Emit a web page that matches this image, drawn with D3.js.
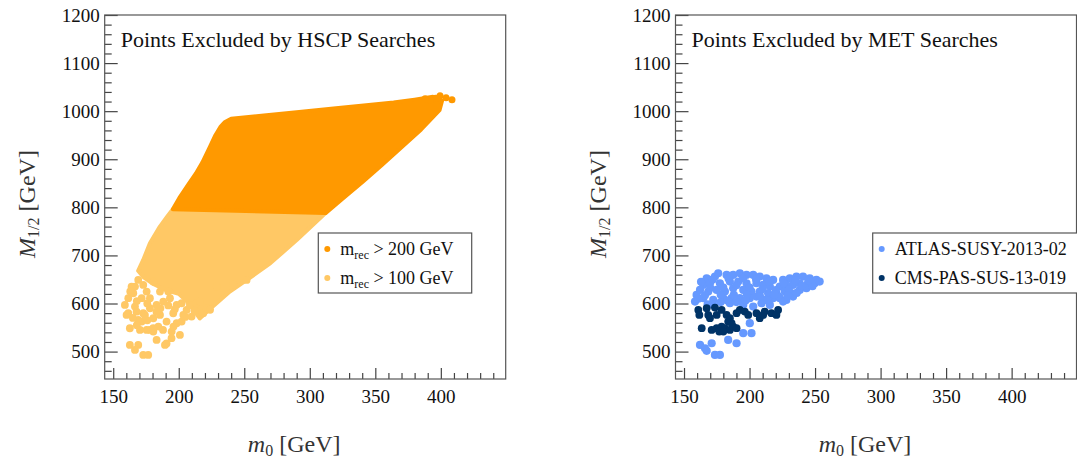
<!DOCTYPE html>
<html>
<head>
<meta charset="utf-8">
<script src="https://cdn.jsdelivr.net/npm/d3@7"></script>
<style>
  body { margin: 0; background: #fff; }
  svg { display: block; }
  text { font-family: "Liberation Serif", "Times New Roman", serif; }
</style>
</head>
<body>
<svg id="chart" width="1077" height="459"></svg>
<script>
// axis ticks
var xTicks = [150, 200, 250, 300, 350, 400];
var yTicks = [500, 600, 700, 800, 900, 1000, 1100, 1200];

// HSCP panel: the dense regions (outline of the filled point cloud) [m0, M12]
var hscp200Region = [
  [195.5, 796], [201, 822], [207, 846], [213, 870], [218, 893], [223.8, 926],
  [228, 950], [232, 968], [235, 977], [240, 984], [265, 991], [290, 998],
  [320, 1006], [345, 1013], [364, 1018], [380, 1024], [394, 1030], [401, 1022],
  [399, 1002], [385, 962], [370, 925], [355, 888], [340, 852], [325, 818],
  [312, 788]
];
var hscp100Region = [
  [195.5, 796], [312, 788], [290, 732], [270, 684], [252, 649], [239, 625],
  [226, 594], [216, 569], [211, 588], [206, 605], [200, 620], [190, 628],
  [181, 640], [173, 655], [169, 668], [172.9, 690.6], [178, 725.4],
  [185.6, 760], [191, 780]
];
// HSCP panel: isolated points at the edges of the cloud
var hscp200Points = [
  [399.4, 1032], [404, 1028], [408.5, 1024], [396, 1027], [392, 1022], [388, 1026]
];
var hscp100Points = [
  [158.9, 597], [161.5, 611], [165.3, 621.3], [166.6, 635.2], [169.1, 649],
  [172.9, 638.6], [175.5, 624.8], [171.7, 611], [166.6, 593.6], [160.2, 576.3],
  [162.7, 548.5], [169.1, 565.9], [172.9, 579.7], [178, 590.1], [183.1, 597],
  [188.2, 604], [193.3, 611], [198.4, 597], [202.2, 600.5], [206, 586.7],
  [209.8, 572.8], [208.5, 597], [213.6, 600.5], [218.7, 579.7], [221.3, 590.1],
  [185.7, 576.3], [190.7, 562.4], [180.6, 569.3], [175.5, 545.1], [178, 545.1],
  [184.4, 552], [198.4, 558.9], [194.6, 541.6], [200.9, 534.7], [183.1, 524.3],
  [189.5, 513.9], [162.7, 513.9], [169.1, 513.9], [172.9, 493.1], [176.7, 493.1],
  [166.6, 503.5], [171.7, 562.4], [180.6, 541.6], [185.7, 624.8], [180.6, 645.6],
  [192, 624.8], [178, 611], [195.8, 579.7], [203.5, 576.3], [202.2, 562.4],
  [161.5, 580], [167.8, 583], [174.2, 576], [170.4, 545], [180.5, 549],
  [190.7, 517], [216.2, 604], [223.9, 587], [228.9, 635], [241.6, 639],
  [251.8, 649], [164, 635], [194.5, 528],
  [163, 625], [168, 605], [176, 600], [186, 590], [192, 596], [197, 588],
  [183, 583], [176, 565], [165, 570], [212, 585], [205, 572], [188, 545],
  [196, 552], [168, 555]
];

// MET panel [m0, M12]
var atlasPoints = [
  [167.3, 652.5], [173.6, 656], [176.1, 662.9], [182.5, 659.5], [187.5, 659.5],
  [192.6, 662.9], [197.7, 659.5], [202.8, 659.5], [207.8, 656], [212.9, 652.5],
  [218, 649.1], [225.6, 649.1], [230.7, 652.5], [235.8, 656], [240.8, 656],
  [245.9, 652.5], [251, 649.1],
  [164.7, 638.7], [169.8, 642.1], [177.4, 642.1], [185, 645.6], [191.4, 645.6],
  [197.7, 642.1], [205.3, 642.1], [210.4, 638.7], [215.5, 635.2], [223.1, 635.2],
  [228.1, 638.7], [233.2, 638.7], [238.3, 642.1], [244.6, 642.1], [249.7, 642.1],
  [253.5, 645.6],
  [159.6, 617.9], [162.2, 628.3], [168.5, 624.8], [174.9, 628.3], [181.2, 624.8],
  [187.5, 631.7], [195.2, 628.3], [201.5, 624.8], [207.8, 624.8], [214.2, 621.3],
  [220.5, 621.3], [226.9, 624.8], [232, 621.3], [238.3, 628.3], [243.4, 631.7],
  [158.4, 604], [164.7, 611], [172.3, 607.5], [179.9, 611], [186.3, 611],
  [192.6, 611], [200.2, 611], [205.3, 614.4], [211.6, 607.5], [218, 611],
  [223.1, 611], [228.1, 607.5], [233.2, 614.4],
  [172.3, 597.1], [185, 600.5], [195.2, 597.1], [202.8, 593.6], [209.1, 600.5],
  [215.5, 597.1], [225.6, 604],
  [170, 632], [180, 633], [190, 638], [200, 633], [210, 630], [220, 628],
  [230, 630], [240, 636], [248, 636], [178, 618], [188, 618], [198, 618],
  [208, 615], [222, 615], [168, 598], [178, 603], [190, 603], [214, 606],
  [235, 648], [245, 648], [163, 645], [172, 650],
  [166, 617], [184, 652], [195, 652], [205, 650], [215, 645], [226, 642],
  [183, 606], [197, 606], [229, 616], [236, 622], [161, 610], [219, 618],
  [200.2, 559], [195.2, 538.2], [201.5, 538.2], [183.7, 524.3], [190.1, 517.4],
  [162.2, 513.9], [166, 507], [171.1, 517.4], [173.6, 493.1], [177.4, 493.1],
  [167.3, 501.5]
];
var cmsPoints = [
  [160.9, 586.7], [161.7, 576.3], [167.3, 590.2], [168.5, 576.3], [173.6, 591.5],
  [174.9, 576.3], [178.7, 586.7], [182.5, 576.3], [185, 569.4], [190.1, 579.8],
  [192.6, 586.7], [196.4, 583.2], [199, 576.3], [205.3, 579.8], [207.8, 569.4],
  [210.4, 576.3], [211.6, 583.2], [216.7, 579.8], [221.8, 586.7], [220.5, 576.3],
  [163.5, 548.6], [171.1, 545.1], [174.9, 548.6], [178.7, 552], [181.2, 548.6],
  [185, 545.1], [187.5, 552], [190.1, 548.6], [176.9, 541.6], [180, 541.6],
  [183.7, 562.4], [186.3, 559], [169.8, 569.4]
];

var colors = {
  hscp200: '#ff9900',
  hscp100: '#ffc865',
  atlas: '#6699ff',
  cms: '#003366'
};

var serif = '"Liberation Serif", "Times New Roman", serif';
var svg = d3.select('#chart');

var drawPanel = function(opts) {
  var left = opts.left, right = opts.left + 401, top = 15, bottom = 379;
  var x = d3.scaleLinear().domain([143.5, 449.5]).range([left, right]);
  var y = d3.scaleLinear().domain([443, 1200]).range([bottom, top]);
  var g = svg.append('g');

  var clipId = 'clip-' + opts.id;
  g.append('clipPath').attr('id', clipId)
    .append('rect')
      .attr('x', left).attr('y', top)
      .attr('width', right - left).attr('height', bottom - top);

  var plot = g.append('g').attr('clip-path', 'url(#' + clipId + ')');
  var area = d3.line().x(function(d) { return x(d[0]); }).y(function(d) { return y(d[1]); })
    .curve(d3.curveLinearClosed);

  (opts.regions || []).forEach(function(r) {
    plot.append('path')
      .datum(r.data)
      .attr('d', area)
      .attr('fill', r.color)
      .attr('stroke', r.color)
      .attr('stroke-width', 4)
      .attr('stroke-linejoin', 'round');
  });

  opts.points.forEach(function(s) {
    plot.append('g').selectAll('circle')
        .data(s.data)
      .enter().append('circle')
        .attr('cx', function(d) { return x(d[0]); })
        .attr('cy', function(d) { return y(d[1]); })
        .attr('r', s.r)
        .attr('fill', s.color);
  });

  // ticks, pointing into the frame
  var xMinor = x.ticks(30).filter(function(v) { return xTicks.indexOf(v) < 0; });
  var yMinor = y.ticks(40).filter(function(v) { return v % 20 === 0 && yTicks.indexOf(v) < 0; });

  var xAxis = g.append('g').attr('transform', 'translate(0,' + bottom + ')')
    .call(d3.axisBottom(x).tickValues(xTicks).tickSize(-11).tickPadding(6).tickFormat(d3.format('d')));
  g.append('g').attr('transform', 'translate(0,' + bottom + ')')
    .call(d3.axisBottom(x).tickValues(xMinor).tickSize(-6).tickFormat(''));
  var yAxis = g.append('g').attr('transform', 'translate(' + left + ',0)')
    .call(d3.axisLeft(y).tickValues(yTicks).tickSize(-13).tickPadding(5).tickFormat(d3.format('d')));
  g.append('g').attr('transform', 'translate(' + left + ',0)')
    .call(d3.axisLeft(y).tickValues(yMinor).tickSize(-7).tickFormat(''));

  [xAxis, yAxis].forEach(function(a) {
    a.attr('font-family', serif).attr('font-size', 19);
  });
  g.selectAll('.domain').remove();
  g.selectAll('.tick line').attr('stroke', '#444').attr('stroke-width', 1.2);
  g.selectAll('.tick text').attr('fill', '#111');
  xAxis.selectAll('.tick text').attr('dy', '0.95em');

  g.append('rect')
    .attr('x', left).attr('y', top)
    .attr('width', right - left).attr('height', bottom - top)
    .attr('fill', 'none').attr('stroke', '#555').attr('stroke-width', 1.2);

  // title
  g.append('text')
    .attr('x', left + 16).attr('y', 47)
    .attr('font-size', 22).attr('fill', '#111')
    .text(opts.title);

  // axis labels
  var xl = g.append('text')
    .attr('x', (left + right) / 2 - 11).attr('y', 452)
    .attr('text-anchor', 'middle')
    .attr('font-size', 24).attr('fill', '#333');
  xl.append('tspan').attr('font-style', 'italic').text('m');
  xl.append('tspan').attr('font-size', 16).attr('dy', 4).text('0');
  xl.append('tspan').attr('dy', -4).text(' [GeV]');

  var yl = g.append('text')
    .attr('transform', 'translate(' + (left - 70) + ',204) rotate(-90)')
    .attr('text-anchor', 'middle')
    .attr('font-size', 24).attr('fill', '#333');
  yl.append('tspan').attr('font-style', 'italic').text('M');
  yl.append('tspan').attr('font-size', 16).attr('dy', 4).text('1/2');
  yl.append('tspan').attr('dy', -4).text(' [GeV]');

  // legend
  var lg = opts.legend;
  g.append('rect')
    .attr('x', lg.x).attr('y', 233)
    .attr('width', lg.w).attr('height', 60)
    .attr('fill', '#fff').attr('stroke', '#555').attr('stroke-width', 1.2);
  lg.items.forEach(function(it, i) {
    var cy = 249 + i * 29;
    g.append('circle').attr('cx', lg.x + 9).attr('cy', cy).attr('r', 3).attr('fill', it.color);
    var t = g.append('text')
      .attr('x', lg.x + 22).attr('y', cy + 6)
      .attr('font-size', 18).attr('fill', '#111');
    if (it.sub) {
      t.append('tspan').text(it.label);
      t.append('tspan').attr('font-size', 12).attr('dy', 4).text(it.sub);
      t.append('tspan').attr('dy', -4).text(it.rest);
    } else {
      t.text(it.label);
    }
  });
};

drawPanel({
  id: 'hscp',
  left: 104.7,
  title: 'Points Excluded by HSCP Searches',
  regions: [
    { data: hscp100Region, color: colors.hscp100 },
    { data: hscp200Region, color: colors.hscp200 }
  ],
  points: [
    { data: hscp100Points, color: colors.hscp100, r: 3.9 },
    { data: hscp200Points, color: colors.hscp200, r: 3.5 }
  ],
  legend: {
    x: 318.3, w: 153.4,
    items: [
      { label: 'm', sub: 'rec', rest: ' > 200 GeV', color: colors.hscp200 },
      { label: 'm', sub: 'rec', rest: ' > 100 GeV', color: colors.hscp100 }
    ]
  }
});

drawPanel({
  id: 'met',
  left: 675.5,
  title: 'Points Excluded by MET Searches',
  regions: [],
  points: [
    { data: atlasPoints, color: colors.atlas, r: 4.1 },
    { data: cmsPoints, color: colors.cms, r: 3.9 }
  ],
  legend: {
    x: 872.7, w: 210,
    items: [
      { label: 'ATLAS-SUSY-2013-02', color: colors.atlas },
      { label: 'CMS-PAS-SUS-13-019', color: colors.cms }
    ]
  }
});
</script>
</body>
</html>
